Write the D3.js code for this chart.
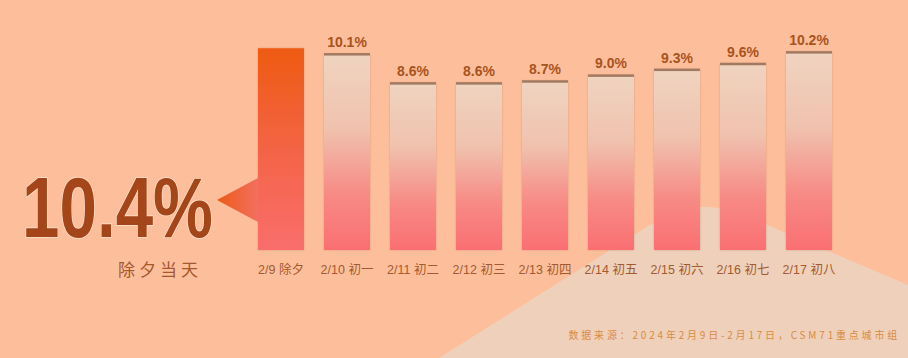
<!DOCTYPE html>
<html>
<head>
<meta charset="utf-8">
<script src="https://cdn.jsdelivr.net/npm/d3@7"></script>
<style>
  body { margin: 0; background: #fdbf9b; }
  svg { display: block; }
</style>
</head>
<body>
<script>
const width = 908;
const height = 358;

// data
const dates = ['2/9', '2/10', '2/11', '2/12', '2/13', '2/14', '2/15', '2/16', '2/17'];
const days = ['除夕', '初一', '初二', '初三', '初四', '初五', '初六', '初七', '初八'];
const values = [10.4, 10.1, 8.6, 8.6, 8.7, 9.0, 9.3, 9.6, 10.2];
const highlight = '除夕当天';
const source = '数据来源：2024年2月9日-2月17日，CSM71重点城市组';

const x = d3.scaleBand()
  .domain(dates)
  .range([258, 832])
  .paddingInner(20 / 66)
  .paddingOuter(0);

const y = d3.scaleLinear()
  .domain([0, 10])
  .range([250, 56]);

const svg = d3.select('body').append('svg')
  .attr('width', width)
  .attr('height', height);

const defs = svg.append('defs');

const gHot = defs.append('linearGradient').attr('id', 'hot')
  .attr('x1', 0).attr('y1', 0).attr('x2', 0).attr('y2', 1);
gHot.append('stop').attr('offset', '0%').attr('stop-color', '#ee5a12');
gHot.append('stop').attr('offset', '55%').attr('stop-color', '#f4654a');
gHot.append('stop').attr('offset', '100%').attr('stop-color', '#f96e6c');

const gSoft = defs.append('linearGradient').attr('id', 'soft')
  .attr('x1', 0).attr('y1', 0).attr('x2', 0).attr('y2', 1);
gSoft.append('stop').attr('offset', '0%').attr('stop-color', '#efd4c0');
gSoft.append('stop').attr('offset', '38%').attr('stop-color', '#f0c2ae');
gSoft.append('stop').attr('offset', '72%').attr('stop-color', '#f78a85');
gSoft.append('stop').attr('offset', '100%').attr('stop-color', '#fa6f72');

const gTri = defs.append('linearGradient').attr('id', 'tri')
  .attr('x1', 0).attr('y1', 0).attr('x2', 1).attr('y2', 0);
gTri.append('stop').attr('offset', '0%').attr('stop-color', '#ec5a16');
gTri.append('stop').attr('offset', '100%').attr('stop-color', '#f27060');

const shadow = defs.append('filter').attr('id', 'shadow')
  .attr('x', '-20%').attr('y', '-20%').attr('width', '140%').attr('height', '140%');
shadow.append('feDropShadow')
  .attr('dx', 0).attr('dy', 0).attr('stdDeviation', 1.2)
  .attr('flood-color', '#9a5030').attr('flood-opacity', 0.35);

// light backdrop shape
svg.append('path')
  .attr('d', 'M439,358 L650,225 C690,200 720,203 760,222 L908,285 L908,358 Z')
  .attr('fill', '#efd1bb');

// bars
svg.append('g')
  .selectAll('rect').data(values).enter().append('rect')
  .attr('x', (d, i) => x(dates[i]))
  .attr('y', d => y(d))
  .attr('width', x.bandwidth())
  .attr('height', d => y(0) - y(d))
  .attr('fill', (d, i) => i === 0 ? 'url(#hot)' : 'url(#soft)')
  .attr('filter', 'url(#shadow)');

// caps on the top of the pale bars
svg.append('g')
  .selectAll('rect').data(values.slice(1)).enter().append('rect')
  .attr('x', (d, i) => x(dates[i + 1]))
  .attr('y', d => y(d) - 1)
  .attr('width', x.bandwidth())
  .attr('height', 2.5)
  .attr('fill', '#a27a62');

// value labels
svg.append('g')
  .selectAll('text').data(values.slice(1)).enter().append('text')
  .attr('x', (d, i) => x(dates[i + 1]) + x.bandwidth() / 2)
  .attr('y', d => y(d) - 7)
  .attr('text-anchor', 'middle')
  .attr('font-family', 'Liberation Sans, Arial, sans-serif')
  .attr('font-weight', 'bold')
  .attr('font-size', 14)
  .attr('fill', '#a9531f')
  .text(d => d.toFixed(1) + '%');

// category labels
svg.append('g')
  .selectAll('text').data(dates).enter().append('text')
  .attr('x', d => x(d) + x.bandwidth() / 2)
  .attr('y', 273.5)
  .attr('text-anchor', 'middle')
  .attr('font-family', 'Liberation Sans Narrow, Liberation Sans, "Noto Sans CJK SC", sans-serif')
  .attr('font-size', 12.5)
  .attr('fill', '#a35a30')
  .text((d, i) => d + ' ' + days[i]);

// pointer triangle
svg.append('path')
  .attr('d', 'M217,200 L258,178 L258,222 Z')
  .attr('fill', 'url(#tri)');

// big highlight number
svg.append('text')
  .attr('x', 22)
  .attr('y', 237)
  .attr('font-family', 'Liberation Sans Narrow, Liberation Sans, Arial, sans-serif')
  .attr('font-weight', 'bold')
  .attr('font-size', 85)
  .attr('textLength', 191)
  .attr('lengthAdjust', 'spacingAndGlyphs')
  .attr('fill', '#a4461a')
  .attr('stroke', '#fde4cf')
  .attr('stroke-width', 1.5)
  .attr('paint-order', 'stroke')
  .text(values[0].toFixed(1) + '%');

svg.append('text')
  .attr('x', 118)
  .attr('y', 276)
  .attr('font-family', '"Noto Sans CJK SC", sans-serif')
  .attr('font-size', 17)
  .attr('letter-spacing', 4)
  .attr('fill', '#a5572e')
  .text(highlight);

// source note
svg.append('text')
  .attr('x', 900)
  .attr('y', 339)
  .attr('text-anchor', 'end')
  .attr('font-family', '"Noto Sans CJK SC", sans-serif')
  .attr('font-size', 10)
  .attr('letter-spacing', 2.8)
  .attr('fill', '#d98b44')
  .text(source);

svg.node();
</script>
</body>
</html>
